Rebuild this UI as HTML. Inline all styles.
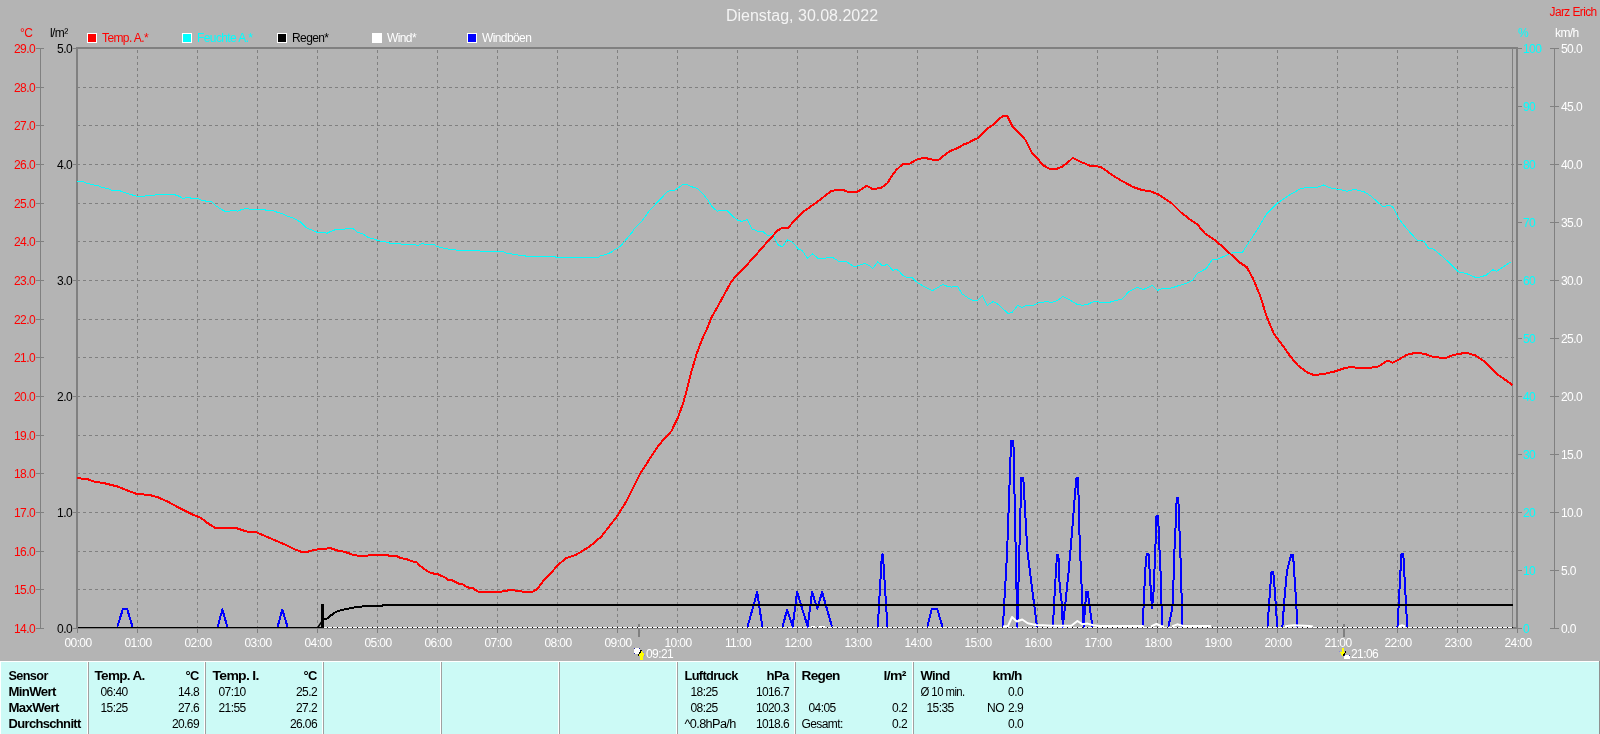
<!DOCTYPE html>
<html><head><meta charset="utf-8"><title>Dienstag, 30.08.2022</title>
<style>
html,body{margin:0;padding:0;}
body{width:1600px;height:734px;overflow:hidden;background:#b4b4b4;position:relative;font-family:"Liberation Sans", Arial, sans-serif;}
svg{position:absolute;left:0;top:0;will-change:transform;}
svg text{font-family:"Liberation Sans", Arial, sans-serif;font-size:12px;letter-spacing:-0.6px;}
</style></head><body>
<svg width="1600" height="661" viewBox="0 0 1600 661" style="top:0">

<text x="802" y="21" text-anchor="middle" fill="#f4f4f4" style="font-size:16px;letter-spacing:0">Dienstag, 30.08.2022</text>
<text x="1549.6" y="16" fill="#f00" textLength="47" lengthAdjust="spacingAndGlyphs">Jarz Erich</text>
<rect x="87" y="33" width="10" height="10" fill="#fff"/><rect x="88" y="34" width="8" height="8" fill="#f00"/>
<text x="102" y="42" fill="#f00">Temp. A.*</text>
<rect x="182" y="33" width="10" height="10" fill="#fff"/><rect x="183" y="34" width="8" height="8" fill="#0ff"/>
<text x="197" y="42" fill="#0ff">Feuchte A.*</text>
<rect x="277" y="33" width="10" height="10" fill="#fff"/><rect x="278" y="34" width="8" height="8" fill="#000"/>
<text x="292" y="42" fill="#000">Regen*</text>
<rect x="372" y="33" width="10" height="10" fill="#fff"/><rect x="373" y="34" width="8" height="8" fill="#fff"/>
<text x="387" y="42" fill="#fff">Wind*</text>
<rect x="467" y="33" width="10" height="10" fill="#fff"/><rect x="468" y="34" width="8" height="8" fill="#00f"/>
<text x="482" y="42" fill="#fff">Windböen</text>
<text x="20" y="37" fill="#f00">°C</text>
<text x="50" y="37" fill="#000">l/m²</text>
<text x="1518" y="37" fill="#0ff">%</text>
<text x="1555" y="37" fill="#fff">km/h</text>
<g stroke="#808080" stroke-width="1" stroke-dasharray="3 3" shape-rendering="crispEdges"><line x1="77" y1="87.5" x2="1515" y2="87.5"/><line x1="77" y1="125.5" x2="1515" y2="125.5"/><line x1="77" y1="164.5" x2="1515" y2="164.5"/><line x1="77" y1="203.5" x2="1515" y2="203.5"/><line x1="77" y1="241.5" x2="1515" y2="241.5"/><line x1="77" y1="280.5" x2="1515" y2="280.5"/><line x1="77" y1="319.5" x2="1515" y2="319.5"/><line x1="77" y1="357.5" x2="1515" y2="357.5"/><line x1="77" y1="396.5" x2="1515" y2="396.5"/><line x1="77" y1="435.5" x2="1515" y2="435.5"/><line x1="77" y1="473.5" x2="1515" y2="473.5"/><line x1="77" y1="512.5" x2="1515" y2="512.5"/><line x1="77" y1="551.5" x2="1515" y2="551.5"/><line x1="77" y1="589.5" x2="1515" y2="589.5"/><line x1="137.5" y1="50" x2="137.5" y2="627"/><line x1="197.5" y1="50" x2="197.5" y2="627"/><line x1="257.5" y1="50" x2="257.5" y2="627"/><line x1="317.5" y1="50" x2="317.5" y2="627"/><line x1="377.5" y1="50" x2="377.5" y2="627"/><line x1="437.5" y1="50" x2="437.5" y2="627"/><line x1="497.5" y1="50" x2="497.5" y2="627"/><line x1="557.5" y1="50" x2="557.5" y2="627"/><line x1="617.5" y1="50" x2="617.5" y2="627"/><line x1="677.5" y1="50" x2="677.5" y2="627"/><line x1="737.5" y1="50" x2="737.5" y2="627"/><line x1="797.5" y1="50" x2="797.5" y2="627"/><line x1="857.5" y1="50" x2="857.5" y2="627"/><line x1="917.5" y1="50" x2="917.5" y2="627"/><line x1="977.5" y1="50" x2="977.5" y2="627"/><line x1="1037.5" y1="50" x2="1037.5" y2="627"/><line x1="1097.5" y1="50" x2="1097.5" y2="627"/><line x1="1157.5" y1="50" x2="1157.5" y2="627"/><line x1="1217.5" y1="50" x2="1217.5" y2="627"/><line x1="1277.5" y1="50" x2="1277.5" y2="627"/><line x1="1337.5" y1="50" x2="1337.5" y2="627"/><line x1="1397.5" y1="50" x2="1397.5" y2="627"/><line x1="1457.5" y1="50" x2="1457.5" y2="627"/></g>
<g fill="#808080" shape-rendering="crispEdges"><rect x="76" y="47" width="1442" height="2"/><rect x="76" y="47" width="2" height="582"/><rect x="1516" y="47" width="2" height="582"/><rect x="76" y="627" width="1442" height="2"/><rect x="1512" y="49" width="1" height="578"/><rect x="40" y="48" width="1" height="581"/><rect x="36" y="48" width="8" height="1"/><rect x="36" y="87" width="8" height="1"/><rect x="36" y="125" width="8" height="1"/><rect x="36" y="164" width="8" height="1"/><rect x="36" y="203" width="8" height="1"/><rect x="36" y="241" width="8" height="1"/><rect x="36" y="280" width="8" height="1"/><rect x="36" y="319" width="8" height="1"/><rect x="36" y="357" width="8" height="1"/><rect x="36" y="396" width="8" height="1"/><rect x="36" y="435" width="8" height="1"/><rect x="36" y="473" width="8" height="1"/><rect x="36" y="512" width="8" height="1"/><rect x="36" y="551" width="8" height="1"/><rect x="36" y="589" width="8" height="1"/><rect x="36" y="628" width="8" height="1"/><rect x="73" y="48" width="3" height="1"/><rect x="73" y="164" width="3" height="1"/><rect x="73" y="280" width="3" height="1"/><rect x="73" y="396" width="3" height="1"/><rect x="73" y="512" width="3" height="1"/><rect x="73" y="628" width="3" height="1"/><rect x="1554" y="48" width="1" height="581"/><rect x="1518" y="48" width="4" height="1"/><rect x="1550" y="48" width="9" height="1"/><rect x="1518" y="106" width="4" height="1"/><rect x="1550" y="106" width="9" height="1"/><rect x="1518" y="164" width="4" height="1"/><rect x="1550" y="164" width="9" height="1"/><rect x="1518" y="222" width="4" height="1"/><rect x="1550" y="222" width="9" height="1"/><rect x="1518" y="280" width="4" height="1"/><rect x="1550" y="280" width="9" height="1"/><rect x="1518" y="338" width="4" height="1"/><rect x="1550" y="338" width="9" height="1"/><rect x="1518" y="396" width="4" height="1"/><rect x="1550" y="396" width="9" height="1"/><rect x="1518" y="454" width="4" height="1"/><rect x="1550" y="454" width="9" height="1"/><rect x="1518" y="512" width="4" height="1"/><rect x="1550" y="512" width="9" height="1"/><rect x="1518" y="570" width="4" height="1"/><rect x="1550" y="570" width="9" height="1"/><rect x="1518" y="628" width="4" height="1"/><rect x="1550" y="628" width="9" height="1"/><rect x="77" y="628" width="1" height="5"/><rect x="137" y="628" width="1" height="5"/><rect x="197" y="628" width="1" height="5"/><rect x="257" y="628" width="1" height="5"/><rect x="317" y="628" width="1" height="5"/><rect x="377" y="628" width="1" height="5"/><rect x="437" y="628" width="1" height="5"/><rect x="497" y="628" width="1" height="5"/><rect x="557" y="628" width="1" height="5"/><rect x="617" y="628" width="1" height="5"/><rect x="677" y="628" width="1" height="5"/><rect x="737" y="628" width="1" height="5"/><rect x="797" y="628" width="1" height="5"/><rect x="857" y="628" width="1" height="5"/><rect x="917" y="628" width="1" height="5"/><rect x="977" y="628" width="1" height="5"/><rect x="1037" y="628" width="1" height="5"/><rect x="1097" y="628" width="1" height="5"/><rect x="1157" y="628" width="1" height="5"/><rect x="1217" y="628" width="1" height="5"/><rect x="1277" y="628" width="1" height="5"/><rect x="1337" y="628" width="1" height="5"/><rect x="1397" y="628" width="1" height="5"/><rect x="1457" y="628" width="1" height="5"/><rect x="1517" y="628" width="1" height="5"/><rect x="638" y="624" width="2" height="13"/><rect x="1343" y="624" width="2" height="13"/></g>
<text x="35" y="52.5" text-anchor="end" fill="#f00">29.0</text><text x="35" y="91.5" text-anchor="end" fill="#f00">28.0</text><text x="35" y="129.5" text-anchor="end" fill="#f00">27.0</text><text x="35" y="168.5" text-anchor="end" fill="#f00">26.0</text><text x="35" y="207.5" text-anchor="end" fill="#f00">25.0</text><text x="35" y="245.5" text-anchor="end" fill="#f00">24.0</text><text x="35" y="284.5" text-anchor="end" fill="#f00">23.0</text><text x="35" y="323.5" text-anchor="end" fill="#f00">22.0</text><text x="35" y="361.5" text-anchor="end" fill="#f00">21.0</text><text x="35" y="400.5" text-anchor="end" fill="#f00">20.0</text><text x="35" y="439.5" text-anchor="end" fill="#f00">19.0</text><text x="35" y="477.5" text-anchor="end" fill="#f00">18.0</text><text x="35" y="516.5" text-anchor="end" fill="#f00">17.0</text><text x="35" y="555.5" text-anchor="end" fill="#f00">16.0</text><text x="35" y="593.5" text-anchor="end" fill="#f00">15.0</text><text x="35" y="632.5" text-anchor="end" fill="#f00">14.0</text><text x="72" y="52.5" text-anchor="end" fill="#000">5.0</text><text x="72" y="168.5" text-anchor="end" fill="#000">4.0</text><text x="72" y="284.5" text-anchor="end" fill="#000">3.0</text><text x="72" y="400.5" text-anchor="end" fill="#000">2.0</text><text x="72" y="516.5" text-anchor="end" fill="#000">1.0</text><text x="72" y="632.5" text-anchor="end" fill="#000">0.0</text><text x="1523" y="52.5" fill="#0ff">100</text><text x="1561" y="52.5" fill="#fff">50.0</text><text x="1523" y="110.5" fill="#0ff">90</text><text x="1561" y="110.5" fill="#fff">45.0</text><text x="1523" y="168.5" fill="#0ff">80</text><text x="1561" y="168.5" fill="#fff">40.0</text><text x="1523" y="226.5" fill="#0ff">70</text><text x="1561" y="226.5" fill="#fff">35.0</text><text x="1523" y="284.5" fill="#0ff">60</text><text x="1561" y="284.5" fill="#fff">30.0</text><text x="1523" y="342.5" fill="#0ff">50</text><text x="1561" y="342.5" fill="#fff">25.0</text><text x="1523" y="400.5" fill="#0ff">40</text><text x="1561" y="400.5" fill="#fff">20.0</text><text x="1523" y="458.5" fill="#0ff">30</text><text x="1561" y="458.5" fill="#fff">15.0</text><text x="1523" y="516.5" fill="#0ff">20</text><text x="1561" y="516.5" fill="#fff">10.0</text><text x="1523" y="574.5" fill="#0ff">10</text><text x="1561" y="574.5" fill="#fff">5.0</text><text x="1523" y="632.5" fill="#0ff">0</text><text x="1561" y="632.5" fill="#fff">0.0</text><text x="78" y="647" text-anchor="middle" fill="#fff">00:00</text><text x="138" y="647" text-anchor="middle" fill="#fff">01:00</text><text x="198" y="647" text-anchor="middle" fill="#fff">02:00</text><text x="258" y="647" text-anchor="middle" fill="#fff">03:00</text><text x="318" y="647" text-anchor="middle" fill="#fff">04:00</text><text x="378" y="647" text-anchor="middle" fill="#fff">05:00</text><text x="438" y="647" text-anchor="middle" fill="#fff">06:00</text><text x="498" y="647" text-anchor="middle" fill="#fff">07:00</text><text x="558" y="647" text-anchor="middle" fill="#fff">08:00</text><text x="618" y="647" text-anchor="middle" fill="#fff">09:00</text><text x="678" y="647" text-anchor="middle" fill="#fff">10:00</text><text x="738" y="647" text-anchor="middle" fill="#fff">11:00</text><text x="798" y="647" text-anchor="middle" fill="#fff">12:00</text><text x="858" y="647" text-anchor="middle" fill="#fff">13:00</text><text x="918" y="647" text-anchor="middle" fill="#fff">14:00</text><text x="978" y="647" text-anchor="middle" fill="#fff">15:00</text><text x="1038" y="647" text-anchor="middle" fill="#fff">16:00</text><text x="1098" y="647" text-anchor="middle" fill="#fff">17:00</text><text x="1158" y="647" text-anchor="middle" fill="#fff">18:00</text><text x="1218" y="647" text-anchor="middle" fill="#fff">19:00</text><text x="1278" y="647" text-anchor="middle" fill="#fff">20:00</text><text x="1338" y="647" text-anchor="middle" fill="#fff">21:00</text><text x="1398" y="647" text-anchor="middle" fill="#fff">22:00</text><text x="1458" y="647" text-anchor="middle" fill="#fff">23:00</text><text x="1518" y="647" text-anchor="middle" fill="#fff">24:00</text><text x="646" y="658" fill="#fff">09:21</text><text x="1351" y="658" fill="#fff">21:06</text>
<g transform="translate(634,648)" shape-rendering="crispEdges"><rect x="1" y="0" width="4" height="6" fill="#fff"/><rect x="0" y="1" width="6" height="4" fill="#fff"/><rect x="0" y="0" width="1" height="1" fill="#2a2aa8"/><rect x="5" y="0" width="1" height="1" fill="#2a2aa8"/><rect x="0" y="5" width="1" height="1" fill="#2a2aa8"/><polygon points="7.5,2 11,7.5 9,7.5 9,11.5 6,11.5 6,7.5 4,7.5" fill="#ff0"/><line x1="7.5" y1="2" x2="4" y2="7.5" stroke="#000" stroke-width="1.2"/><rect x="9" y="4" width="1" height="1" fill="#8888e0"/><rect x="10" y="7" width="1" height="1" fill="#8888e0"/></g>
<g transform="translate(1339,648)" shape-rendering="crispEdges"><polygon points="2.5,0 5,0 5,3.5 7,3.5 3.75,8.5 0.5,3.5 2.5,3.5" fill="#ff0"/><line x1="7" y1="3.5" x2="3.75" y2="8.5" stroke="#000" stroke-width="1.2"/><rect x="6" y="7" width="4" height="1" fill="#fff"/><rect x="5" y="8" width="6" height="3" fill="#fff"/><rect x="5" y="7" width="1" height="1" fill="#2a2aa8"/><rect x="10" y="7" width="1" height="1" fill="#2a2aa8"/><rect x="0" y="3" width="1" height="1" fill="#8888e0"/></g>
<g shape-rendering="crispEdges">
<rect x="78" y="627" width="245" height="1" fill="#000"/>
<rect x="322" y="627" width="1191" height="1" fill="#fff"/>
<line x1="322" y1="627.5" x2="1513" y2="627.5" stroke="#000" stroke-width="1" stroke-dasharray="1 4"/>
</g>
<polyline points="77.3,181.2 82.5,181.2 86.6,183.2 91.4,184.5 98.7,185.8 102.0,187.4 108.5,188.9 111.7,190.5 119.1,190.5 124.7,192.6 131.2,194.6 136.9,196.4 144.2,196.4 145.9,195.4 154.0,195.4 156.4,194.4 173.5,194.4 178.4,195.9 183.2,198.5 186.5,197.5 189.7,197.5 191.4,198.5 197.9,198.5 201.9,200.3 206.0,201.1 211.7,202.0 215.7,205.6 219.8,208.5 224.7,211.1 228.7,211.3 232.0,210.3 235.2,210.5 237.7,211.3 241.7,209.4 246.6,208.5 251.5,209.4 264.5,209.4 266.1,210.3 273.4,210.7 277.5,212.4 282.4,213.7 287.2,216.2 293.7,218.3 300.2,221.9 306.7,228.0 311.6,230.0 317.3,232.3 323.8,232.3 327.1,233.2 331.1,231.3 336.5,229.2 344.6,229.2 346.2,228.3 352.7,228.3 357.6,232.3 362.5,233.6 368.2,237.4 373.9,239.0 378.7,240.9 385.2,241.7 390.9,243.4 399.9,243.4 401.5,244.5 414.5,244.5 417.7,245.5 422.6,243.4 425.9,244.5 434.0,244.5 437.2,246.6 445.4,248.6 451.1,249.5 460.0,250.5 479.5,250.5 481.1,251.5 503.1,251.5 507.1,253.4 514.4,254.4 520.9,255.6 529.9,256.4 555.1,256.4 555.9,257.5 598.4,257.2 600.4,255.9 605.2,254.8 610.7,252.5 614.1,250.1 617.5,248.4 620.9,245.6 625.0,240.9 628.4,236.8 631.8,232.7 634.5,228.6 640.0,223.2 643.4,219.1 646.8,214.3 649.5,210.6 656.3,203.4 661.8,197.9 665.2,193.9 667.9,191.4 670.6,190.7 674.0,190.4 677.4,188.4 680.9,186.1 682.9,184.3 687.0,184.3 690.4,186.1 693.1,187.3 697.2,188.4 700.6,191.8 704.0,195.2 708.1,200.3 711.5,206.1 714.2,208.8 717.6,211.2 720.4,210.5 727.2,210.5 729.9,213.3 734.0,217.4 738.1,220.4 741.7,221.3 747.5,219.7 752.1,229.0 757.9,231.3 762.5,231.3 768.3,235.9 772.9,233.6 777.5,244.5 782.2,246.8 787.5,239.9 792.6,242.2 798.4,249.1 801.9,250.3 807.6,258.4 812.3,253.8 818.1,258.4 823.8,258.4 829.6,257.2 833.1,257.7 838.9,261.4 847.0,261.9 852.8,266.0 857.4,266.0 864.4,263.5 869.0,265.3 872.5,268.8 877.8,261.9 882.9,266.0 887.5,264.2 890.0,267.2 892.7,270.3 896.2,269.2 898.9,270.9 902.4,275.0 906.5,277.5 912.0,277.5 917.5,282.7 925.7,287.4 932.6,290.6 938.1,287.4 942.9,284.4 946.4,286.0 951.2,287.1 957.4,286.4 962.2,294.0 968.4,298.1 972.5,300.5 977.3,300.5 982.4,295.4 987.3,305.3 993.1,301.6 997.2,303.6 1008.2,313.5 1012.4,312.1 1017.6,305.4 1022.0,307.5 1026.8,305.3 1033.0,305.3 1038.5,302.9 1046.1,301.6 1052.2,302.5 1057.7,300.2 1063.0,296.5 1068.7,299.2 1077.0,304.3 1082.5,305.4 1088.0,304.3 1092.1,302.2 1096.2,301.6 1100.4,302.2 1109.0,302.4 1122.5,298.8 1128.5,291.9 1137.5,287.4 1143.5,289.5 1152.5,285.3 1157.6,290.4 1162.9,288.3 1170.4,288.3 1177.9,285.9 1186.9,282.9 1192.9,279.9 1197.4,273.3 1206.4,268.5 1212.4,259.5 1216.9,259.5 1231.9,252.9 1242.4,252.3 1249.9,240.9 1257.4,229.5 1266.4,214.0 1276.9,203.5 1288.8,195.4 1300.8,188.5 1309.8,187.0 1317.2,187.2 1323.5,185.0 1331.3,188.2 1340.7,189.7 1347.0,191.3 1354.8,189.4 1364.2,191.9 1370.5,195.7 1376.8,201.3 1383.0,207.0 1389.3,205.1 1393.4,207.6 1398.7,218.6 1403.4,224.8 1409.7,232.0 1417.5,240.5 1423.8,241.1 1428.5,248.3 1433.2,249.0 1439.5,254.0 1447.3,260.9 1458.3,271.8 1466.1,273.4 1477.1,278.1 1486.5,275.0 1492.7,269.7 1496.8,271.2 1503.7,266.5 1511.5,261.5" fill="none" stroke="#0ff" stroke-width="1" stroke-linejoin="round" shape-rendering="crispEdges"/>
<polyline points="117.4,626.6 122.9,609.0 127.2,609.0 132.4,626.6" fill="none" stroke="#00f" stroke-width="2" stroke-linejoin="round" shape-rendering="crispEdges"/>
<polyline points="217.7,626.6 222.4,609.5 227.3,626.6" fill="none" stroke="#00f" stroke-width="2" stroke-linejoin="round" shape-rendering="crispEdges"/>
<polyline points="277.7,626.6 282.3,609.5 287.5,626.6" fill="none" stroke="#00f" stroke-width="2" stroke-linejoin="round" shape-rendering="crispEdges"/>
<polyline points="747.6,626.6 757.2,592.0 762.3,626.6" fill="none" stroke="#00f" stroke-width="2" stroke-linejoin="round" shape-rendering="crispEdges"/>
<polyline points="782.7,626.6 787.1,609.4 792.6,626.6 797.1,592.0 807.7,626.6 812.1,592.0 817.3,608.7 822.1,592.0 832.0,626.6" fill="none" stroke="#00f" stroke-width="2" stroke-linejoin="round" shape-rendering="crispEdges"/>
<polyline points="877.8,626.6 881.9,554.4 882.9,554.4 887.4,626.6" fill="none" stroke="#00f" stroke-width="2" stroke-linejoin="round" shape-rendering="crispEdges"/>
<polyline points="927.3,626.6 931.6,609.5 932.6,608.7 936.4,608.7 937.4,609.5 942.4,626.6" fill="none" stroke="#00f" stroke-width="2" stroke-linejoin="round" shape-rendering="crispEdges"/>
<polyline points="1002.9,626.6 1007.0,555.0 1011.1,441.0 1013.4,441.0 1017.3,626.6 1021.3,478.0 1023.3,478.0 1027.3,550.0 1032.3,590.0 1037.0,626.6" fill="none" stroke="#00f" stroke-width="2" stroke-linejoin="round" shape-rendering="crispEdges"/>
<polyline points="1052.9,626.6 1055.0,586.8 1057.0,554.8 1058.4,554.8 1059.7,586.8 1061.8,603.1 1062.8,626.6 1065.8,599.0 1068.6,571.8 1070.6,548.6 1072.7,524.2 1074.4,501.1 1076.3,478.3 1078.1,478.3 1079.5,535.0 1080.8,569.0 1082.2,599.0 1083.6,626.6 1086.3,591.5 1087.6,591.5 1092.4,626.6" fill="none" stroke="#00f" stroke-width="2" stroke-linejoin="round" shape-rendering="crispEdges"/>
<polyline points="1142.7,626.6 1145.3,569.0 1146.7,554.2 1148.6,554.2 1150.6,586.8 1152.0,608.5 1153.6,590.7 1155.2,553.2 1156.5,515.7 1158.1,515.7 1159.5,550.0 1161.1,582.8 1161.9,626.6" fill="none" stroke="#00f" stroke-width="2" stroke-linejoin="round" shape-rendering="crispEdges"/>
<polyline points="1168.4,626.6 1172.3,608.5 1173.3,586.8 1174.7,543.3 1175.9,521.6 1176.7,497.9 1178.3,497.9 1179.3,525.6 1180.2,549.3 1181.2,576.9 1182.2,626.6" fill="none" stroke="#00f" stroke-width="2" stroke-linejoin="round" shape-rendering="crispEdges"/>
<polyline points="1267.5,626.6 1269.7,595.7 1271.4,572.4 1273.3,572.4 1275.2,595.7 1277.2,626.6" fill="none" stroke="#00f" stroke-width="2" stroke-linejoin="round" shape-rendering="crispEdges"/>
<polyline points="1282.4,626.6 1284.7,595.7 1286.9,572.4 1288.2,565.9 1290.1,558.8 1291.4,554.5 1293.1,554.5 1294.0,569.8 1296.0,599.5 1297.5,626.6" fill="none" stroke="#00f" stroke-width="2" stroke-linejoin="round" shape-rendering="crispEdges"/>
<polyline points="1397.5,626.6 1401.4,554.2 1403.3,554.2 1407.2,626.6" fill="none" stroke="#00f" stroke-width="2" stroke-linejoin="round" shape-rendering="crispEdges"/>
<rect x="811" y="626" width="4" height="1" fill="#fff"/><rect x="819" y="626" width="6" height="1" fill="#fff"/>
<polyline points="1003.0,626.5 1008.0,626.0 1012.0,617.0 1016.8,621.5 1022.2,619.5 1027.7,623.3 1035.9,625.0 1042.7,625.2 1052.2,625.8 1071.3,625.8 1077.4,621.0 1082.2,624.2 1087.6,623.6 1093.1,625.3 1100.0,626.0 1142.0,626.0 1144.0,626.5" fill="none" stroke="#fff" stroke-width="2" stroke-linejoin="round"/>
<polyline points="1151.0,626.5 1156.5,624.0 1161.0,626.0 1164.0,626.5" fill="none" stroke="#fff" stroke-width="2" stroke-linejoin="round"/>
<polyline points="1172.0,626.5 1177.3,624.3 1183.0,626.0 1210.0,626.0 1211.0,626.5" fill="none" stroke="#fff" stroke-width="2" stroke-linejoin="round"/>
<polyline points="1285.0,626.5 1288.8,625.8 1294.0,625.2 1309.5,626.0 1313.0,626.5" fill="none" stroke="#fff" stroke-width="2" stroke-linejoin="round"/>
<polyline points="1399.0,626.5 1402.0,625.3 1405.0,626.5" fill="none" stroke="#fff" stroke-width="2" stroke-linejoin="round"/>
<polyline points="317.8,627.5 321.5,622" fill="none" stroke="#000" stroke-width="1.5"/>
<rect x="321" y="604" width="3" height="24" fill="#000"/>
<polyline points="323.5,619.5 326.5,619.0 329.0,616.8 332.5,614.3 336.0,611.8 340.0,610.6 343.5,609.6 347.5,608.8 352.0,607.9 357.5,607.0 362.0,606.5 367.5,606.0 382.0,606.0 383.0,605.0 1513.0,605.0" fill="none" stroke="#000" stroke-width="2" stroke-linejoin="round" shape-rendering="crispEdges"/>
<polyline points="77.4,478.2 86.9,479.0 93.7,481.4 103.3,483.0 116.9,486.3 125.0,489.6 136.0,493.7 149.6,495.0 157.8,497.2 168.7,502.1 179.6,508.1 190.5,513.6 201.4,518.2 206.8,522.6 215.0,527.8 236.8,528.3 247.7,531.8 255.9,532.1 266.8,536.8 277.7,541.4 285.9,544.9 294.0,549.0 300.9,551.7 307.7,551.7 315.8,549.6 326.7,548.5 330.8,548.2 336.5,550.3 344.7,551.9 352.9,554.7 357.8,555.6 367.6,555.6 369.2,554.7 387.2,554.8 388.9,555.6 396.2,556.0 400.3,557.9 406.9,559.2 411.8,561.2 416.7,562.2 419.9,565.8 426.5,570.7 431.4,573.1 437.9,574.3 444.5,577.2 447.7,579.7 452.6,580.5 459.2,583.8 462.5,584.3 467.4,587.4 472.3,587.9 478.0,591.6 501.7,591.6 505.0,590.6 513.2,590.3 516.4,590.6 523.0,591.6 532.8,591.6 537.7,588.7 544.2,579.7 550.8,573.1 557.3,565.8 565.5,558.4 570.4,556.8 576.9,554.3 583.5,550.3 590.0,546.2 601.3,536.6 617.2,516.1 626.0,501.9 640.2,473.6 656.2,448.8 663.2,439.9 671.4,431.1 677.4,418.7 682.7,404.5 686.3,392.1 691.6,370.8 696.9,353.1 702.2,339.0 706.9,329.0 711.6,317.4 717.4,307.0 723.1,296.6 731.3,281.5 739.4,272.3 748.6,263.0 757.9,252.6 767.1,242.2 777.5,230.6 782.2,227.8 788.0,227.8 794.9,220.2 801.9,212.8 811.1,206.3 820.4,199.4 831.9,190.6 843.5,190.1 848.1,191.9 857.4,191.7 866.7,185.9 872.5,188.9 880.6,188.2 887.5,183.1 890.0,178.6 895.7,170.6 902.4,164.3 909.1,163.9 917.7,159.1 924.3,157.8 932.0,159.5 938.7,159.7 945.3,154.4 951.1,150.6 957.7,148.1 963.5,144.5 968.2,142.9 974.0,139.7 977.8,138.2 987.3,128.6 993.0,124.8 1000.7,117.7 1004.1,115.6 1007.3,116.2 1012.1,125.8 1019.7,133.4 1025.5,140.1 1032.1,153.4 1038.8,160.1 1042.6,164.9 1049.3,168.7 1056.9,168.7 1062.7,166.4 1068.4,162.0 1072.8,157.8 1078.9,161.1 1090.3,165.8 1100.8,166.8 1112.0,175.0 1121.0,180.4 1133.0,187.0 1142.0,190.0 1151.0,191.5 1158.5,194.5 1172.0,203.5 1181.0,212.5 1190.0,219.4 1197.4,224.4 1204.9,233.4 1213.9,239.4 1222.9,246.9 1231.9,255.3 1237.9,261.3 1246.9,267.3 1252.9,278.4 1260.4,296.4 1266.4,315.9 1273.9,333.9 1282.9,345.9 1290.3,356.3 1297.8,365.3 1306.8,372.2 1314.3,375.2 1325.1,373.7 1334.5,371.5 1343.9,368.4 1351.7,366.8 1359.5,368.4 1368.9,368.1 1378.3,366.5 1387.7,360.5 1392.4,362.7 1398.7,359.6 1406.5,354.9 1416.0,352.7 1425.4,354.0 1433.2,357.1 1445.7,358.0 1453.6,354.9 1466.1,352.7 1475.5,355.5 1484.9,361.8 1497.4,374.3 1506.8,380.9 1512.5,385.0" fill="none" stroke="#f00" stroke-width="2" stroke-linejoin="round" shape-rendering="crispEdges"/>
</svg>
<svg width="1600" height="73" viewBox="0 661 1600 73" style="top:661px"><rect x="0" y="661" width="1600" height="73" fill="#ccfaf6"/><g shape-rendering="crispEdges"><rect x="0" y="661" width="1599" height="1" fill="#fff"/><rect x="0" y="661" width="1" height="73" fill="#fff"/><rect x="1599" y="661" width="1" height="73" fill="#909090"/><rect x="87" y="662" width="1" height="72" fill="#fff"/><rect x="88" y="662" width="1" height="72" fill="#a0a0a0"/><rect x="204" y="662" width="1" height="72" fill="#fff"/><rect x="205" y="662" width="1" height="72" fill="#a0a0a0"/><rect x="322" y="662" width="1" height="72" fill="#fff"/><rect x="323" y="662" width="1" height="72" fill="#a0a0a0"/><rect x="440" y="662" width="1" height="72" fill="#fff"/><rect x="441" y="662" width="1" height="72" fill="#a0a0a0"/><rect x="558" y="662" width="1" height="72" fill="#fff"/><rect x="559" y="662" width="1" height="72" fill="#a0a0a0"/><rect x="676" y="662" width="1" height="72" fill="#fff"/><rect x="677" y="662" width="1" height="72" fill="#a0a0a0"/><rect x="794" y="662" width="1" height="72" fill="#fff"/><rect x="795" y="662" width="1" height="72" fill="#a0a0a0"/><rect x="912" y="662" width="1" height="72" fill="#fff"/><rect x="913" y="662" width="1" height="72" fill="#a0a0a0"/></g><g fill="#000"><text x="8.50" y="680" font-weight="bold" style="font-size:12px" textLength="39.20" lengthAdjust="spacingAndGlyphs">Sensor</text><text x="8.50" y="696" font-weight="bold" style="font-size:12px" textLength="47.20" lengthAdjust="spacingAndGlyphs">MinWert</text><text x="8.50" y="712" font-weight="bold" style="font-size:12px" textLength="50.20" lengthAdjust="spacingAndGlyphs">MaxWert</text><text x="8.50" y="728" font-weight="bold" style="font-size:12px" textLength="72.20" lengthAdjust="spacingAndGlyphs">Durchschnitt</text><text x="94.50" y="680" font-weight="bold" style="font-size:12px" textLength="50.20" lengthAdjust="spacingAndGlyphs">Temp. A.</text><text x="185.50" y="680" font-weight="bold" style="font-size:12px" textLength="13.20" lengthAdjust="spacingAndGlyphs">°C</text><text x="100.50" y="696">06:40</text><text x="199.00" y="696" text-anchor="end">14.8</text><text x="100.50" y="712">15:25</text><text x="199.00" y="712" text-anchor="end">27.6</text><text x="199.00" y="728" text-anchor="end">20.69</text><text x="212.50" y="680" font-weight="bold" style="font-size:12px" textLength="46.20" lengthAdjust="spacingAndGlyphs">Temp. I.</text><text x="303.50" y="680" font-weight="bold" style="font-size:12px" textLength="13.20" lengthAdjust="spacingAndGlyphs">°C</text><text x="218.50" y="696">07:10</text><text x="317.00" y="696" text-anchor="end">25.2</text><text x="218.50" y="712">21:55</text><text x="317.00" y="712" text-anchor="end">27.2</text><text x="317.00" y="728" text-anchor="end">26.06</text><text x="684.50" y="680" font-weight="bold" style="font-size:12px" textLength="53.20" lengthAdjust="spacingAndGlyphs">Luftdruck</text><text x="766.50" y="680" font-weight="bold" style="font-size:12px" textLength="22.20" lengthAdjust="spacingAndGlyphs">hPa</text><text x="690.50" y="696">18:25</text><text x="789.00" y="696" text-anchor="end">1016.7</text><text x="690.50" y="712">08:25</text><text x="789.00" y="712" text-anchor="end">1020.3</text><text x="684.50" y="728" textLength="51.20" lengthAdjust="spacingAndGlyphs">^0.8hPa/h</text><text x="789.00" y="728" text-anchor="end">1018.6</text><text x="801.50" y="680" font-weight="bold" style="font-size:12px" textLength="38.20" lengthAdjust="spacingAndGlyphs">Regen</text><text x="883.50" y="680" font-weight="bold" style="font-size:12px" textLength="22.20" lengthAdjust="spacingAndGlyphs">l/m²</text><text x="808.50" y="712">04:05</text><text x="907.00" y="712" text-anchor="end">0.2</text><text x="801.50" y="728">Gesamt:</text><text x="907.00" y="728" text-anchor="end">0.2</text><text x="920.50" y="680" font-weight="bold" style="font-size:12px" textLength="29.20" lengthAdjust="spacingAndGlyphs">Wind</text><text x="992.50" y="680" font-weight="bold" style="font-size:12px" textLength="29.20" lengthAdjust="spacingAndGlyphs">km/h</text><text x="920.50" y="696" textLength="44.20" lengthAdjust="spacingAndGlyphs">Ø 10 min.</text><text x="1023.00" y="696" text-anchor="end">0.0</text><text x="926.50" y="712">15:35</text><text x="1023.00" y="712" text-anchor="end" style="word-spacing:1.5px">NO 2.9</text><text x="1023.00" y="728" text-anchor="end">0.0</text></g></svg>
</body></html>
